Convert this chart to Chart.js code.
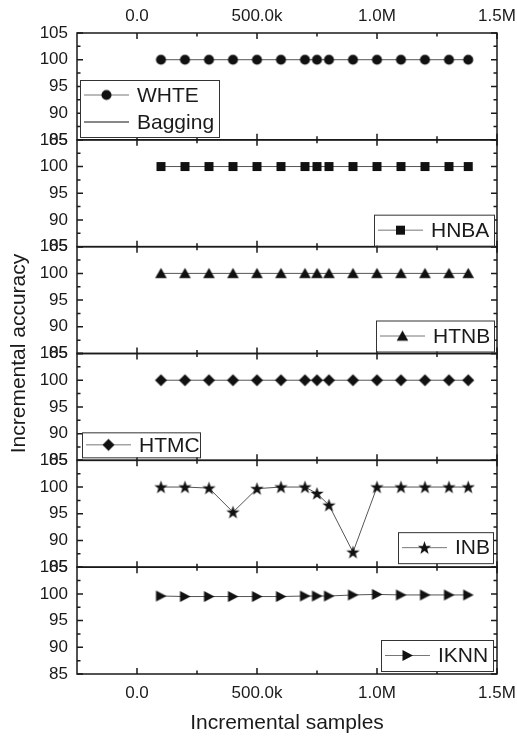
<!DOCTYPE html>
<html lang="en">
  <head>
    <meta charset="UTF-8" />
    <title>Incremental accuracy vs incremental samples</title>
    <script src="https://cdn.jsdelivr.net/npm/chart.js@4"></script>
    <style>
      body { margin: 0; background: #fff; }
    </style>
  </head>
  <body>
    <canvas id="myChart" width="517" height="736"></canvas>

    <script>
      // data
      const samples = [100000, 200000, 300000, 400000, 500000, 600000, 700000, 750000, 800000, 900000, 1000000, 1100000, 1200000, 1300000, 1380000];
      const whte = [100, 100, 100, 100, 100, 100, 100, 100, 100, 100, 100, 100, 100, 100, 100];
      const hnba = [100, 100, 100, 100, 100, 100, 100, 100, 100, 100, 100, 100, 100, 100, 100];
      const htnb = [100, 100, 100, 100, 100, 100, 100, 100, 100, 100, 100, 100, 100, 100, 100];
      const htmc = [100, 100, 100, 100, 100, 100, 100, 100, 100, 100, 100, 100, 100, 100, 100];
      const inb = [100, 100, 99.8, 95.3, 99.7, 100, 100, 98.8, 96.6, 87.8, 100, 100, 100, 100, 100];
      const iknn = [99.6, 99.5, 99.5, 99.5, 99.5, 99.5, 99.6, 99.6, 99.6, 99.8, 99.9, 99.8, 99.8, 99.8, 99.8];

      const xTickValues = [0, 500000, 1000000, 1500000];
      const xTickLabels = ['0.0', '500.0k', '1.0M', '1.5M'];
      const xMinorValues = [250000, 750000, 1250000];
      const yTickValues = [85, 90, 95, 100, 105];
      const yMinorValues = [87.5, 92.5, 97.5, 102.5];

      const FONT = "'Liberation Sans', Arial, sans-serif";
      const INK = '#1a1a1a';

      function marker(shape) {
        const c = document.createElement('canvas');
        c.width = 15; c.height = 15;
        const g = c.getContext('2d');
        g.fillStyle = '#111';
        g.translate(7.5, 7.5);
        g.beginPath();
        if (shape == 'circle') g.arc(0, 0, 5, 0, 2 * Math.PI);
        if (shape == 'square') g.rect(-4.5, -4.5, 9, 9);
        if (shape == 'triangle') { g.moveTo(0, -5.5); g.lineTo(5.8, 4.8); g.lineTo(-5.8, 4.8); }
        if (shape == 'diamond') { g.moveTo(0, -6); g.lineTo(6, 0); g.lineTo(0, 6); g.lineTo(-6, 0); }
        if (shape == 'right') { g.moveTo(-5, -5.5); g.lineTo(5.5, 0); g.lineTo(-5, 5.5); }
        if (shape == 'star') {
          for (let i = 0; i < 10; i++) {
            const r = i % 2 ? 2.8 : 7;
            const a = -Math.PI / 2 + i * Math.PI / 5;
            g.lineTo(r * Math.cos(a), r * Math.sin(a) + 0.5);
          }
        }
        g.closePath();
        g.fill();
        return c;
      }

      function series(label, values, axis, shape) {
        return {
          label: label,
          data: values.map((v, i) => ({ x: samples[i], y: v })),
          yAxisID: axis,
          borderColor: '#555',
          borderWidth: 1,
          pointStyle: marker(shape),
          pointRadius: 6,
          pointHoverRadius: 6
        };
      }

      const datasets = [
        series('WHTE', whte, 'y0', 'circle'),
        { label: 'Bagging', data: [], yAxisID: 'y0', borderColor: '#111', borderWidth: 1, pointStyle: false },
        series('HNBA', hnba, 'y1', 'square'),
        series('HTNB', htnb, 'y2', 'triangle'),
        series('HTMC', htmc, 'y3', 'diamond'),
        series('INB', inb, 'y4', 'star'),
        series('IKNN', iknn, 'y5', 'right')
      ];

      // where each panel's legend box sits
      const legendBoxes = {
        y0: { corner: 'tl', dx: 3, dy: 47, w: 139, rowH: 27 },
        y1: { corner: 'br', dx: 3, dy: 1, w: 120, rowH: 28 },
        y2: { corner: 'br', dx: 3, dy: 2, w: 118, rowH: 28 },
        y3: { corner: 'bl', dx: 5, dy: 3, w: 118, rowH: 22 },
        y4: { corner: 'br', dx: 4, dy: 4, w: 95, rowH: 28 },
        y5: { corner: 'br', dx: 4, dy: 3, w: 112, rowH: 28 }
      };
      const panelIds = ['y0', 'y1', 'y2', 'y3', 'y4', 'y5'];

      const framePlugin = {
        id: 'frame',
        beforeDatasetsDraw(chart) {
          const ctx = chart.ctx;
          const ca = chart.chartArea;
          const xs = chart.scales.x;
          ctx.save();
          ctx.strokeStyle = INK;
          ctx.lineWidth = 1.5;
          panelIds.forEach(id => {
            const s = chart.scales[id];
            ctx.strokeRect(ca.left, s.top, ca.right - ca.left, s.bottom - s.top);
            ctx.beginPath();
            [[xTickValues, 6], [xMinorValues, 3.5]].forEach(([vals, len]) => {
              vals.forEach(v => {
                const px = xs.getPixelForValue(v);
                ctx.moveTo(px, s.top); ctx.lineTo(px, s.top + len);
                ctx.moveTo(px, s.bottom); ctx.lineTo(px, s.bottom - len);
              });
            });
            [[yTickValues, 6], [yMinorValues, 3.5]].forEach(([vals, len]) => {
              vals.forEach(v => {
                const py = s.getPixelForValue(v);
                ctx.moveTo(ca.left, py); ctx.lineTo(ca.left + len, py);
                ctx.moveTo(ca.right, py); ctx.lineTo(ca.right - len, py);
              });
            });
            ctx.stroke();
          });
          ctx.restore();
        },
        afterDatasetsDraw(chart) {
          const ctx = chart.ctx;
          const ca = chart.chartArea;
          ctx.save();
          ctx.font = '21px ' + FONT;
          ctx.textBaseline = 'middle';
          panelIds.forEach(id => {
            const s = chart.scales[id];
            const b = legendBoxes[id];
            const items = chart.data.datasets.filter(d => d.yAxisID == id);
            const h = 3 + items.length * b.rowH;
            let left, top;
            if (b.corner == 'tl') { left = ca.left + b.dx; top = s.top + b.dy; }
            if (b.corner == 'bl') { left = ca.left + b.dx; top = s.bottom - b.dy - h; }
            if (b.corner == 'br') { left = ca.right - b.dx - b.w; top = s.bottom - b.dy - h; }
            ctx.fillStyle = '#fff';
            ctx.fillRect(left, top, b.w, h);
            ctx.strokeStyle = '#333';
            ctx.lineWidth = 1;
            ctx.strokeRect(left + 0.5, top + 0.5, b.w, h);
            items.forEach((d, i) => {
              const cy = top + 1.5 + b.rowH * (i + 0.5);
              ctx.strokeStyle = d.pointStyle ? '#777' : '#111';
              ctx.beginPath();
              ctx.moveTo(left + 4, cy); ctx.lineTo(left + 49, cy);
              ctx.stroke();
              if (d.pointStyle) ctx.drawImage(d.pointStyle, left + 26.5 - 7.5, cy - 7.5);
              ctx.fillStyle = INK;
              ctx.fillText(d.label, left + 57, cy + 1);
            });
          });
          ctx.restore();
        }
      };

      const xCommon = {
        type: 'linear',
        min: -250000,
        max: 1500000,
        afterBuildTicks: s => { s.ticks = xTickValues.map(v => ({ value: v })); },
        ticks: {
          font: { size: 17, family: FONT },
          color: INK,
          padding: 6,
          maxRotation: 0,
          callback: v => xTickLabels[xTickValues.indexOf(v)]
        },
        grid: { display: false, drawTicks: false },
        border: { display: false }
      };

      const scales = {
        x: Object.assign({}, xCommon, {
          position: 'bottom',
          ticks: Object.assign({}, xCommon.ticks, { padding: 9 }),
          title: { display: true, text: 'Incremental samples', font: { size: 21, family: FONT }, color: INK, padding: 0 },
          afterFit: s => { s.height = 62; s.paddingLeft = 0; s.paddingRight = 0; }
        }),
        x2: Object.assign({}, xCommon, {
          position: 'top',
          afterFit: s => { s.height = 33; s.paddingLeft = 0; s.paddingRight = 0; }
        }),
        yt: {
          type: 'linear',
          position: 'left',
          weight: 10,
          ticks: { display: false },
          grid: { display: false, drawTicks: false },
          border: { display: false },
          title: { display: true, text: 'Incremental accuracy', font: { size: 21, family: FONT }, color: INK, padding: { top: 7, bottom: 0 } },
          afterFit: s => { s.width = 26; }
        }
      };
      // later-defined stacked axes end up on top, so add them bottom-first
      panelIds.slice().reverse().forEach(id => {
        scales[id] = {
          type: 'linear',
          position: 'left',
          stack: 'panels',
          stackWeight: 1,
          min: 85,
          max: 105,
          ticks: { stepSize: 5, font: { size: 17, family: FONT }, color: INK, padding: 9, autoSkip: false },
          grid: { display: false, drawTicks: false },
          border: { display: false },
          afterFit: s => { s.width = 51; }
        };
      });

      const ctx = document.getElementById('myChart').getContext('2d');
      const myChart = new Chart(ctx, {
        type: 'line',
        data: { datasets: datasets },
        options: {
          responsive: false,
          animation: false,
          layout: { padding: { left: 0, right: 20, top: 0, bottom: 0 } },
          plugins: { legend: { display: false }, tooltip: { enabled: false } },
          scales: scales
        },
        plugins: [framePlugin]
      });
    </script>
  </body>
</html>
